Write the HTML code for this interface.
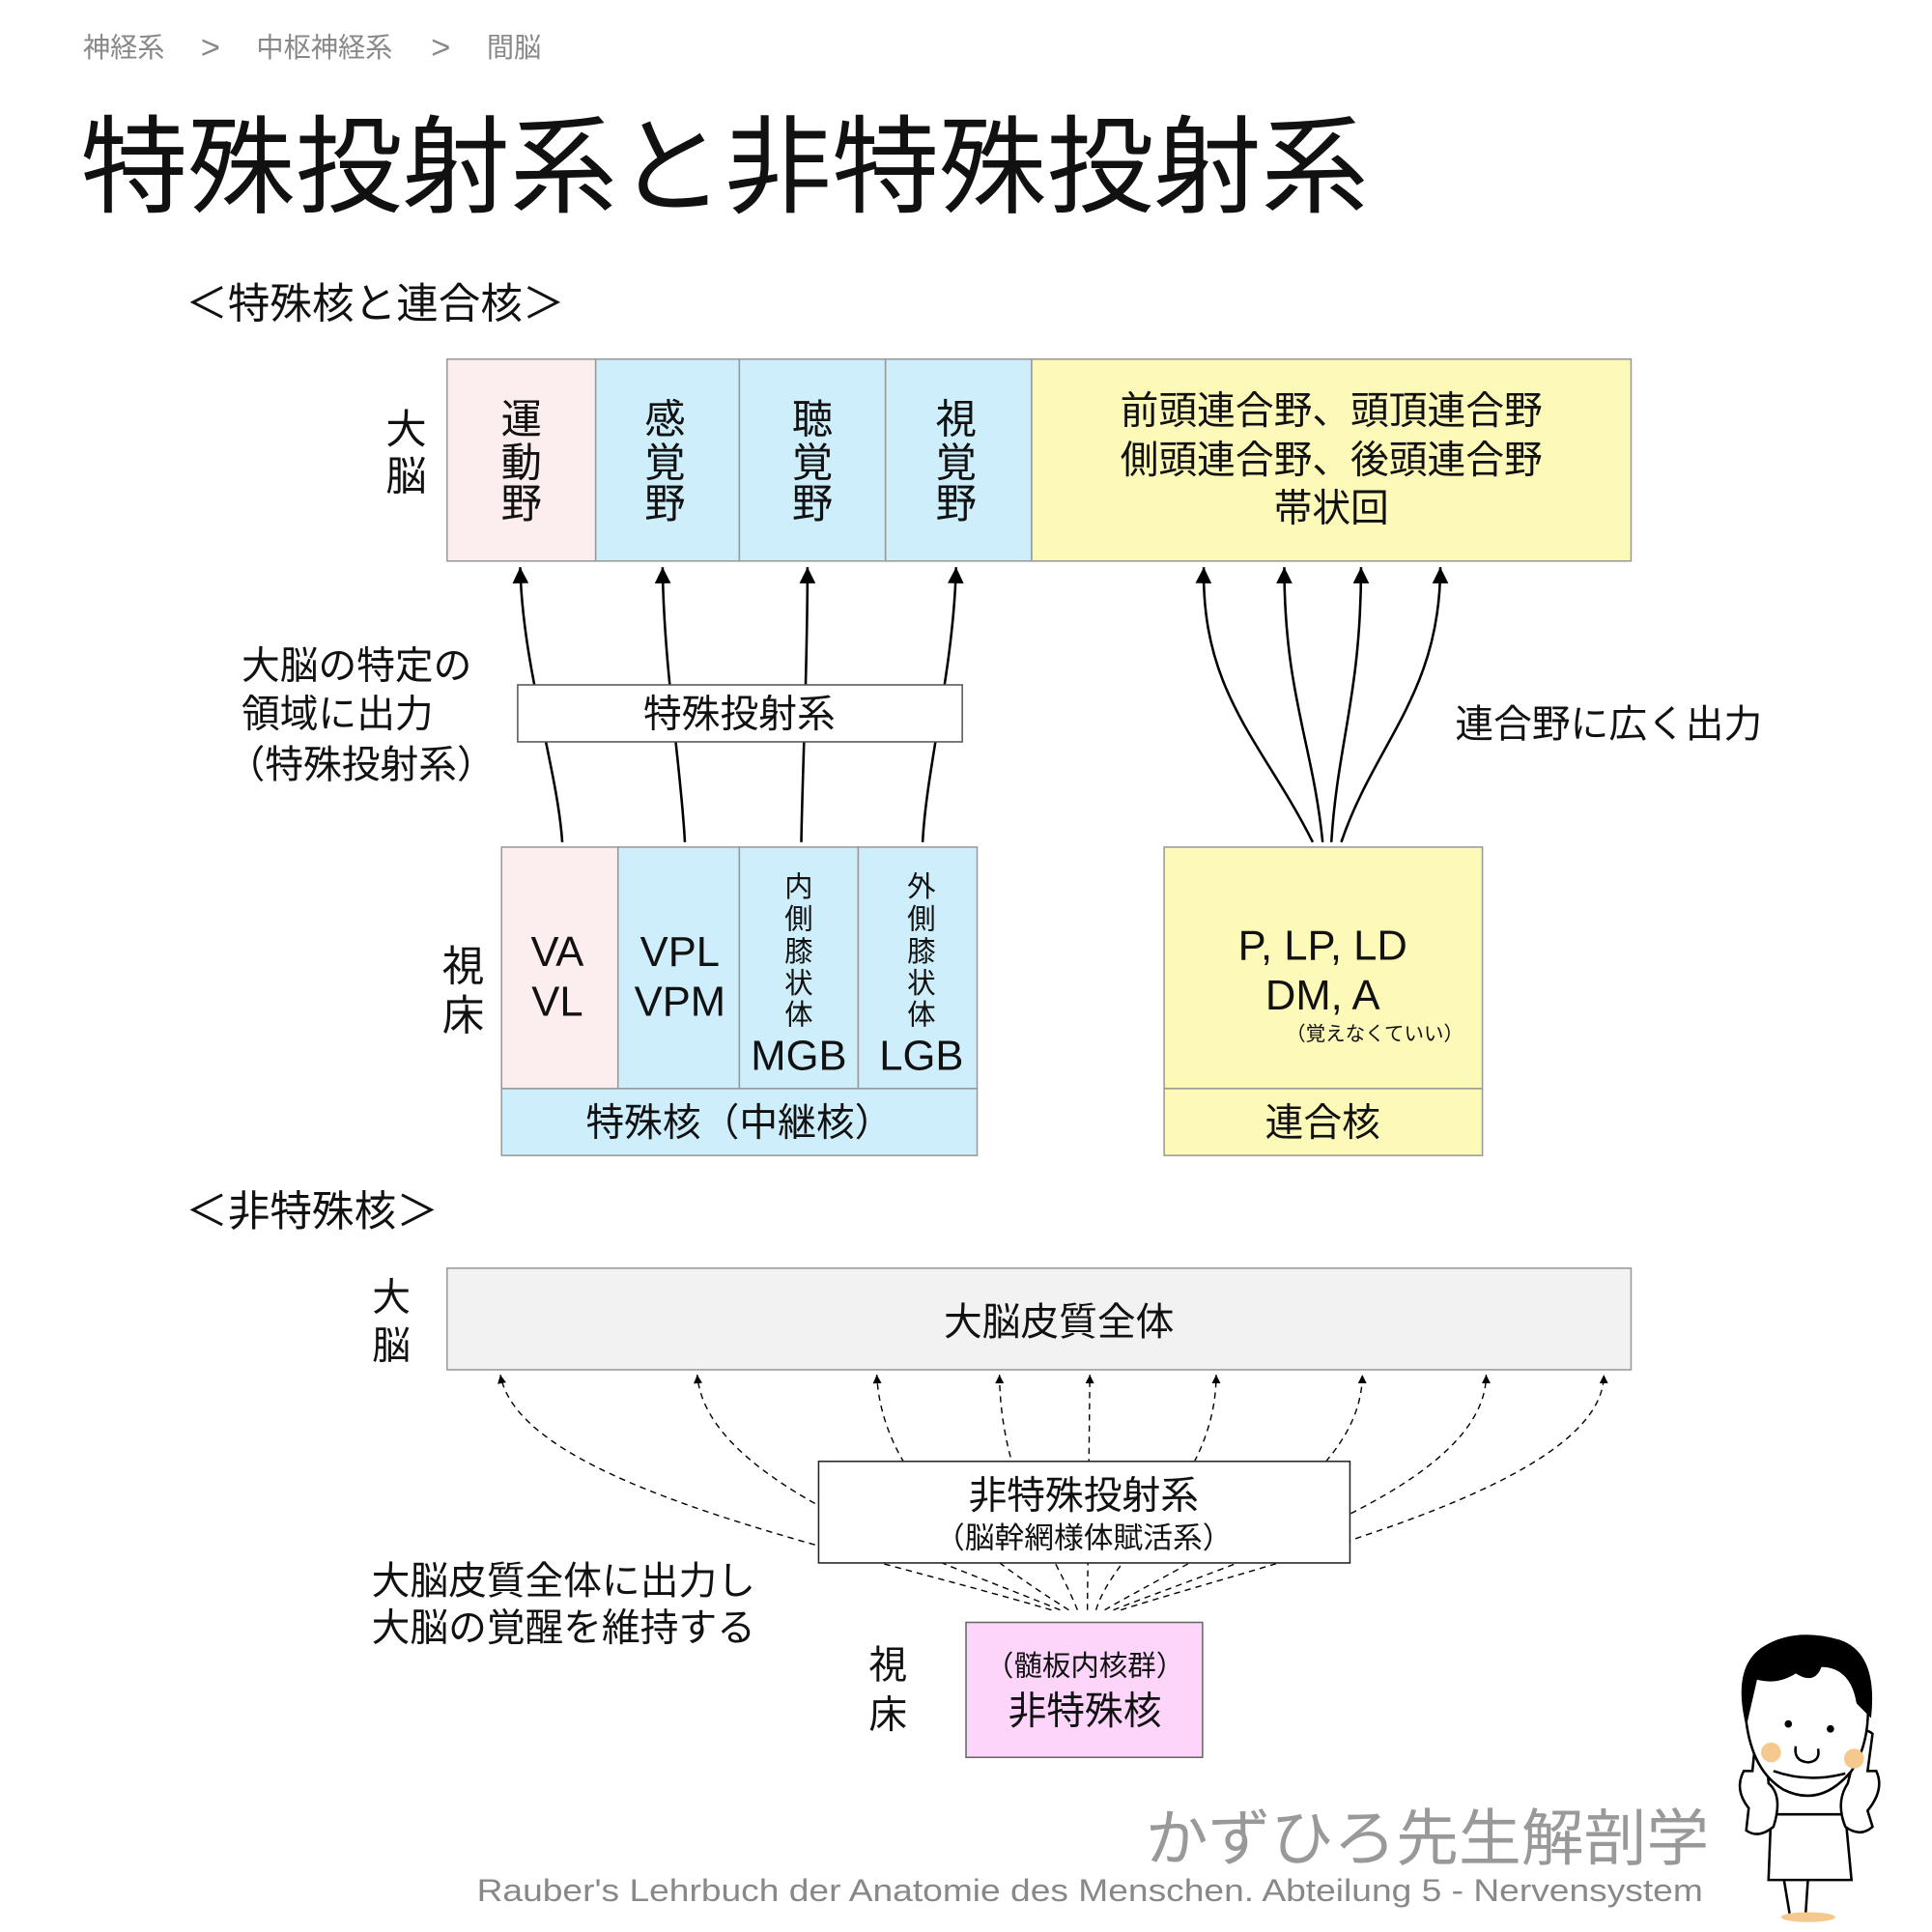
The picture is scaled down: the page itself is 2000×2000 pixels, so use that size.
<!DOCTYPE html>
<html><head><meta charset="utf-8"><style>
html,body{margin:0;padding:0;background:#fff;}
svg{display:block;}
text{font-family:"Liberation Sans","Noto Sans CJK JP",sans-serif;fill:#111;}
</style></head><body>
<svg width="2000" height="2000" viewBox="0 0 1560 1560" xmlns="http://www.w3.org/2000/svg">
<defs>
<marker id="a" viewBox="0 0 10 10" refX="10" refY="5" markerWidth="20" markerHeight="13" markerUnits="userSpaceOnUse" orient="auto"><path d="M0,0 L10,5 L0,10 Z" fill="#000"/></marker>
<marker id="d" viewBox="0 0 10 10" refX="10" refY="5" markerWidth="10" markerHeight="7" markerUnits="userSpaceOnUse" orient="auto"><path d="M0,0 L10,5 L0,10 Z" fill="#000"/></marker>
</defs>
<rect width="1560" height="1560" fill="#fff"/>
<g font-size="22">
<text x="67" y="46" style="fill:#888">神経系</text>
<text x="162" y="47" font-size="27" style="fill:#888">&gt;</text>
<text x="207" y="46" style="fill:#888">中枢神経系</text>
<text x="348" y="47" font-size="27" style="fill:#888">&gt;</text>
<text x="393" y="46" style="fill:#888">間脳</text>
</g>
<text x="65" y="165" font-size="86" textLength="1040" lengthAdjust="spacingAndGlyphs">特殊投射系と非特殊投射系</text>
<text x="150" y="257" font-size="34">＜特殊核と連合核＞</text>

<g stroke="#999" stroke-width="1.2">
<rect x="361" y="290" width="120" height="163" fill="#fcedee"/>
<rect x="481" y="290" width="116" height="163" fill="#cdeefa"/>
<rect x="597" y="290" width="118" height="163" fill="#cdeefa"/>
<rect x="715" y="290" width="118" height="163" fill="#cdeefa"/>
<rect x="833" y="290" width="484" height="163" fill="#fdf9b8"/>
</g>
<g font-size="33" text-anchor="middle">
<text x="421" y="350">運</text><text x="421" y="385">動</text><text x="421" y="418">野</text>
<text x="537" y="350">感</text><text x="537" y="385">覚</text><text x="537" y="418">野</text>
<text x="656" y="350">聴</text><text x="656" y="385">覚</text><text x="656" y="418">野</text>
<text x="772" y="350">視</text><text x="772" y="385">覚</text><text x="772" y="418">野</text>
<text x="328" y="358">大</text><text x="328" y="396">脳</text>
</g>
<g font-size="31" text-anchor="middle">
<text x="1075" y="342">前頭連合野、頭頂連合野</text>
<text x="1075" y="382">側頭連合野、後頭連合野</text>
<text x="1075" y="421">帯状回</text>
</g>

<g stroke="#000" stroke-width="2" fill="none" marker-end="url(#a)">
<path d="M454,680 C450,620 422,540 420,458"/>
<path d="M553,680 C550,620 536,540 535,458"/>
<path d="M647,680 C648,620 652,540 652,458"/>
<path d="M745,680 C748,620 770,540 772,458"/>
<path d="M1060,680 C1020,600 970,560 972,458"/>
<path d="M1068,680 C1060,600 1037,560 1037,458"/>
<path d="M1075,680 C1080,600 1099,560 1099,458"/>
<path d="M1083,680 C1110,600 1163,560 1163,458"/>
</g>
<rect x="418" y="553" width="359" height="46" fill="#fff" stroke="#555" stroke-width="1.2"/>
<text x="597" y="587" font-size="31" text-anchor="middle">特殊投射系</text>
<g font-size="31">
<text x="195" y="548">大脳の特定の</text>
<text x="195" y="587">領域に出力</text>
<text x="183" y="628">（特殊投射系）</text>
<text x="1175" y="595">連合野に広く出力</text>
</g>

<g stroke="#999" stroke-width="1.2">
<rect x="405" y="684" width="94" height="195" fill="#fcedee"/>
<rect x="499" y="684" width="98" height="195" fill="#cdeefa"/>
<rect x="597" y="684" width="96" height="195" fill="#cdeefa"/>
<rect x="693" y="684" width="96" height="195" fill="#cdeefa"/>
<rect x="405" y="879" width="384" height="54" fill="#cdeefa"/>
<rect x="940" y="684" width="257" height="195" fill="#fdf9b8"/>
<rect x="940" y="879" width="257" height="54" fill="#fdf9b8"/>
</g>
<g font-size="34" text-anchor="middle">
<text x="450" y="780">VA</text><text x="450" y="820">VL</text>
<text x="549" y="780">VPL</text><text x="549" y="820">VPM</text>
<text x="645" y="864">MGB</text><text x="744" y="864">LGB</text>
<text x="374" y="792">視</text><text x="374" y="832">床</text>
<text x="1068" y="775">P, LP, LD</text><text x="1068" y="815">DM, A</text>
</g>
<g font-size="23" text-anchor="middle">
<text x="645" y="724">内</text><text x="645" y="750">側</text><text x="645" y="776">膝</text><text x="645" y="802">状</text><text x="645" y="827">体</text>
<text x="744" y="724">外</text><text x="744" y="750">側</text><text x="744" y="776">膝</text><text x="744" y="802">状</text><text x="744" y="827">体</text>
</g>
<text x="1110" y="840" font-size="16" text-anchor="middle">（覚えなくていい）</text>
<text x="597" y="917" font-size="31" text-anchor="middle">特殊核（中継核）</text>
<text x="1068" y="917" font-size="31" text-anchor="middle">連合核</text>

<text x="150" y="990" font-size="34">＜非特殊核＞</text>
<rect x="361" y="1024" width="956" height="82" fill="#f2f2f2" stroke="#999" stroke-width="1.2"/>
<text x="855" y="1078" font-size="31" text-anchor="middle">大脳皮質全体</text>
<g font-size="31" text-anchor="middle"><text x="316" y="1058">大</text><text x="316" y="1097">脳</text>
<text x="717" y="1355">視</text><text x="717" y="1395">床</text></g>

<g stroke="#000" stroke-width="1.1" fill="none" stroke-dasharray="5,4" marker-end="url(#d)">
<path d="M849,1300 C680,1250 420,1200 404,1110"/>
<path d="M856,1300 C760,1260 570,1200 563,1110"/>
<path d="M863,1300 C800,1260 712,1200 708,1110"/>
<path d="M870,1300 C850,1250 808,1200 807,1110"/>
<path d="M878,1300 L880,1110"/>
<path d="M885,1300 C900,1250 982,1200 982,1110"/>
<path d="M892,1300 C960,1260 1100,1200 1100,1110"/>
<path d="M899,1300 C1000,1260 1200,1200 1200,1110"/>
<path d="M905,1300 C1030,1260 1295,1200 1295,1110"/>
</g>
<rect x="661" y="1180" width="429" height="82" fill="#fff" stroke="#222" stroke-width="1.2"/>
<text x="875" y="1218" font-size="31" text-anchor="middle">非特殊投射系</text>
<text x="875" y="1250" font-size="24" text-anchor="middle">（脳幹網様体賦活系）</text>
<rect x="780" y="1310" width="191" height="109" fill="#fdd5fb" stroke="#666" stroke-width="1.2"/>
<text x="876" y="1353" font-size="23" text-anchor="middle">（髄板内核群）</text>
<text x="876" y="1392" font-size="31" text-anchor="middle">非特殊核</text>
<g font-size="31">
<text x="300" y="1287">大脳皮質全体に出力し</text>
<text x="300" y="1325">大脳の覚醒を維持する</text>
</g>

<text x="925" y="1502" font-size="50" style="fill:#999" textLength="455" lengthAdjust="spacingAndGlyphs">かずひろ先生解剖学</text>
<text x="385" y="1535" font-size="25" style="fill:#888" textLength="990" lengthAdjust="spacingAndGlyphs">Rauber's Lehrbuch der Anatomie des Menschen. Abteilung 5 -  Nervensystem</text>

<g stroke="#000" stroke-width="2" fill="#fff">
<path d="M1440,1515 L1445,1545 M1460,1515 L1458,1545" fill="none"/>
<ellipse cx="1460" cy="1548" rx="22" ry="4" fill="#f5c98e" stroke="none"/>
<path d="M1430,1465 L1490,1465 L1495,1518 L1428,1518 Z"/>
<path d="M1412,1460 Q1400,1445 1408,1430 L1415,1430 L1418,1400 Q1424,1395 1426,1408 L1428,1440 Q1440,1450 1432,1475 Q1420,1485 1410,1478 Z"/>
<path d="M1508,1462 Q1522,1445 1515,1430 L1508,1430 L1512,1400 Q1505,1393 1500,1408 L1492,1440 Q1482,1455 1490,1475 Q1502,1484 1512,1475 Z"/>
<path d="M1410,1390 Q1405,1340 1440,1330 Q1480,1325 1505,1350 Q1515,1400 1495,1430 Q1470,1460 1440,1445 Q1415,1430 1410,1390 Z"/>
<path d="M1410,1390 Q1400,1345 1425,1330 Q1450,1315 1485,1325 Q1515,1335 1510,1385 L1500,1375 Q1495,1345 1470,1345 Q1465,1360 1450,1350 Q1435,1360 1418,1355 Z" fill="#000"/>
<circle cx="1430" cy="1415" r="8" fill="#f5c98e" stroke="none"/>
<circle cx="1497" cy="1420" r="8" fill="#f5c98e" stroke="none"/>
<path d="M1450,1410 Q1448,1422 1460,1423 Q1470,1422 1468,1412 M1432,1430 Q1460,1440 1490,1432" fill="none"/>
<circle cx="1444" cy="1392" r="2" fill="#000"/><circle cx="1478" cy="1396" r="2" fill="#000"/>
</g>
</svg>
</body></html>
